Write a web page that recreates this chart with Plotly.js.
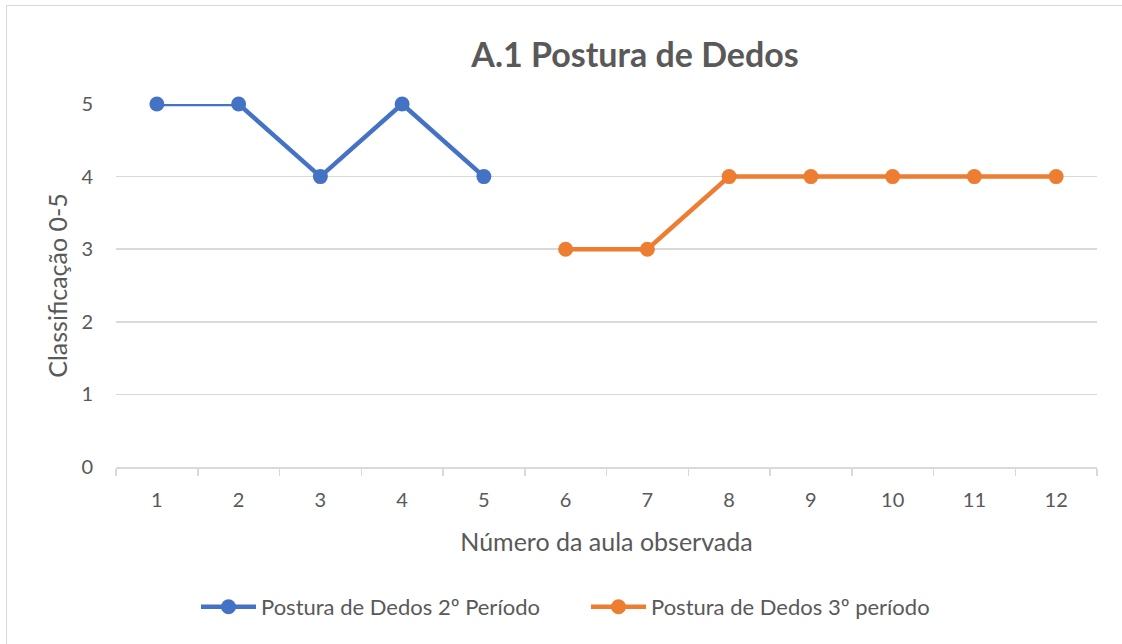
<!DOCTYPE html>
<html>
<head>
<meta charset="utf-8">
<script src="https://cdn.plot.ly/plotly-3.0.1.min.js"></script>
<style>
  html, body { margin: 0; padding: 0; background: #fff; overflow: hidden; }
  #wrap { position: relative; width: 1122px; height: 644px; }
  #frame { position: absolute; left: 6px; top: 5px; width: 1130px; height: 650px; border: 1.5px solid #d9d9d9; pointer-events: none; box-sizing: border-box; }
  #chart { position: absolute; left: 0; top: 0; width: 1122px; height: 644px; }
</style>
</head>
<body>
<div id="wrap">
  <div id="chart"></div>
  <div id="frame"></div>
</div>
<script>
const categories = ['1','2','3','4','5','6','7','8','9','10','11','12'];
const periodo2 = [5, 5, 4, 5, 4, null, null, null, null, null, null, null];
const periodo3 = [null, null, null, null, null, 3, 3, 4, 4, 4, 4, 4];
const seriesNames = ['Postura de Dedos 2º Período', 'Postura de Dedos 3º período'];
const yTicks = [0, 1, 2, 3, 4, 5];

const font = 'Lato, "Open Sans", sans-serif';
const gray = '#595959';

const traces = [
  {
    x: categories, y: periodo2, name: seriesNames[0], type: 'scatter', mode: 'lines+markers',
    line: { color: '#4472C4', width: 4.5 }, marker: { color: '#4472C4', size: 15 }, connectgaps: false, cliponaxis: false
  },
  {
    x: categories, y: periodo3, name: seriesNames[1], type: 'scatter', mode: 'lines+markers',
    line: { color: '#ED7D31', width: 4.5 }, marker: { color: '#ED7D31', size: 15 }, connectgaps: false, cliponaxis: false
  }
];

const layout = {
  width: 1122, height: 644,
  paper_bgcolor: 'rgba(0,0,0,0)', plot_bgcolor: 'rgba(0,0,0,0)',
  margin: { l: 116, r: 25, t: 104, b: 177, autoexpand: false },
  font: { family: font, size: 20, color: gray },
  showlegend: true,
  title: {
    text: '<b>A.1 Postura de Dedos</b>',
    font: { family: font, size: 34, color: gray },
    xref: 'container', x: 0.566, xanchor: 'center',
    yref: 'container', y: 1 - 55/644, yanchor: 'middle'
  },
  xaxis: {
    type: 'category', categoryorder: 'array', categoryarray: categories,
    range: [-0.5, 11.5], fixedrange: true, automargin: false,
    showgrid: false, zeroline: false,
    showline: true, linecolor: '#d9d9d9', linewidth: 1.5,
    ticks: 'outside', tickson: 'boundaries', ticklen: 7, tickcolor: '#d9d9d9', tickwidth: 1.5,
    ticklabelstandoff: 14,
    tickfont: { family: font, size: 20, color: gray },
    title: { text: 'Número da aula observada', font: { family: font, size: 25, color: gray }, standoff: 24 }
  },
  yaxis: {
    range: [0, 5], fixedrange: true, automargin: false,
    tickmode: 'array', tickvals: yTicks, ticktext: yTicks.map(String),
    showgrid: true, gridcolor: '#d9d9d9', gridwidth: 1.5,
    zeroline: false, showline: false, ticks: '',
    ticklabelstandoff: 22,
    tickfont: { family: font, size: 20, color: gray },
    title: { text: 'Classificação 0-5', font: { family: font, size: 25, color: gray }, standoff: 6 }
  },
  legend: {
    orientation: 'h', x: (196 - 116) / 981, xanchor: 'left', y: (467 - 607) / 363, yanchor: 'middle',
    font: { family: font, size: 22, color: gray }, itemwidth: 55, bgcolor: 'rgba(0,0,0,0)',
    entrywidth: 320, entrywidthmode: 'pixels', tracegroupgap: 0
  }
};

Plotly.newPlot('chart', traces, layout, { displayModeBar: false, staticPlot: true });
</script>
</body>
</html>
